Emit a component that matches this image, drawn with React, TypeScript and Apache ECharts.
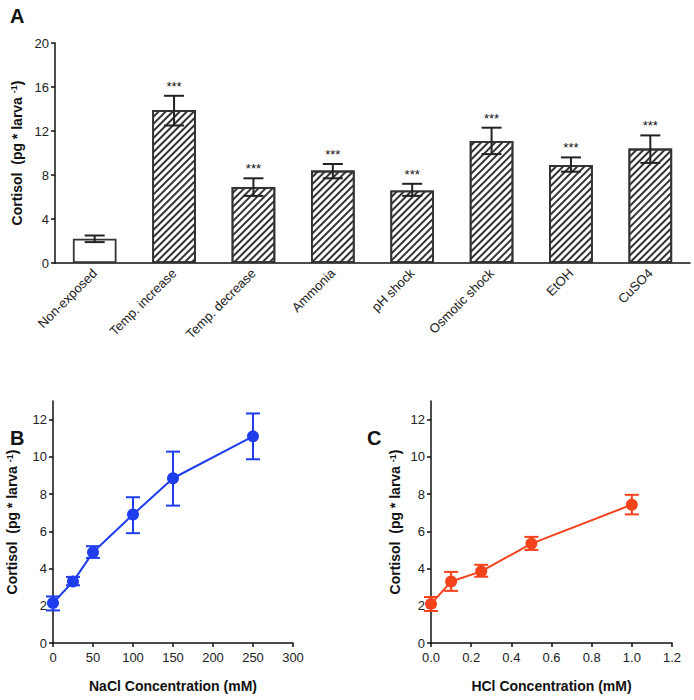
import React, { useEffect, useRef } from "react";
import * as echarts from "echarts";

const categories = ["Non-exposed", "Temp. increase", "Temp. decrease", "Ammonia", "pH shock", "Osmotic shock", "EtOH", "CuSO4"];
const barValues = [2.2, 13.9, 6.9, 8.4, 6.6, 11.1, 8.9, 10.4];
const barLow = [1.9, 12.5, 6.1, 7.7, 6.1, 9.9, 8.3, 9.1];
const barHigh = [2.5, 15.2, 7.7, 9.0, 7.2, 12.3, 9.6, 11.6];
const barStars = ["", "***", "***", "***", "***", "***", "***", "***"];

const naclX = [0, 25, 50, 100, 150, 250];
const naclY = [2.15, 3.3, 4.87, 6.9, 8.85, 11.1];
const naclLow = [1.75, 3.1, 4.57, 5.9, 7.38, 9.87];
const naclHigh = [2.5, 3.55, 5.2, 7.83, 10.28, 12.33];

const hclX = [0, 0.1, 0.25, 0.5, 1.0];
const hclY = [2.1, 3.3, 3.85, 5.34, 7.43];
const hclLow = [1.72, 2.8, 3.56, 5.0, 6.91];
const hclHigh = [2.47, 3.82, 4.2, 5.7, 7.96];

const yTicksBC = [0, 2, 4, 6, 8, 10, 12];

const FONT = "Liberation Sans, Arial, sans-serif";
const BLUE = "#1f3ced";
const RED = "#f4421c";

export default function App() {
  const ref = useRef<HTMLDivElement>(null);
  useEffect(() => {
    if (!ref.current) return;
    const chart = echarts.init(ref.current, null, { renderer: "svg" });

    const axisLine = { lineStyle: { color: "#111", width: 1.5 } };
    const axisTick = { length: 4, lineStyle: { color: "#111", width: 1.5 } };
    const axisLabel = { color: "#222", fontSize: 13, fontFamily: FONT };
    const yName = "Cortisol  (pg * larva {sup|-1})";
    const nameStyle = {
      fontSize: 14,
      fontWeight: "bold" as const,
      color: "#111",
      fontFamily: FONT,
      rich: { sup: { fontSize: 9, fontWeight: "bold" as const, verticalAlign: "top" as const, color: "#111", fontFamily: FONT } },
    };

    const errRender = (capW: number, color: string, withStars: boolean, stars?: string[]) => (params: any, api: any) => {
      const x = api.value(0);
      const lo = api.coord([x, api.value(1)]);
      const hi = api.coord([x, api.value(2)]);
      const style = { stroke: color, lineWidth: 2 };
      const children: any[] = [
        { type: "line", shape: { x1: hi[0], y1: hi[1], x2: lo[0], y2: lo[1] }, style },
        { type: "line", shape: { x1: hi[0] - capW / 2, y1: hi[1], x2: hi[0] + capW / 2, y2: hi[1] }, style },
        { type: "line", shape: { x1: lo[0] - capW / 2, y1: lo[1], x2: lo[0] + capW / 2, y2: lo[1] }, style },
      ];
      if (withStars && stars && stars[params.dataIndex]) {
        children.push({
          type: "text",
          x: hi[0],
          y: hi[1] - 3,
          style: { text: stars[params.dataIndex], fill: "#111", fontSize: 13, fontFamily: FONT, align: "center", verticalAlign: "bottom" },
        });
      }
      return { type: "group", children };
    };

    const decal = {
      symbol: "rect",
      symbolSize: 1,
      dashArrayX: [1, 0],
      dashArrayY: [1.6, 2.2],
      rotation: -Math.PI / 4,
      color: "#333",
    };

    chart.setOption({
      animation: false,
      backgroundColor: "#fff",
      graphic: [
        { type: "text", left: 10, top: 6, style: { text: "A", fontSize: 20, fontWeight: "bold", fill: "#111", fontFamily: FONT } },
        { type: "text", left: 10, top: 428, style: { text: "B", fontSize: 20, fontWeight: "bold", fill: "#111", fontFamily: FONT } },
        { type: "text", left: 367, top: 428, style: { text: "C", fontSize: 20, fontWeight: "bold", fill: "#111", fontFamily: FONT } },
      ],
      grid: [
        { left: 55, top: 43, width: 635, height: 220 },
        { left: 53, top: 401, width: 240, height: 242 },
        { left: 431, top: 401, width: 241, height: 242 },
      ],
      xAxis: [
        {
          gridIndex: 0,
          type: "category",
          data: categories,
          boundaryGap: true,
          axisLine,
          axisTick: { ...axisTick, alignWithLabel: true },
          axisLabel: { ...axisLabel, rotate: 45, interval: 0, margin: 8 },
        },
        {
          gridIndex: 1,
          type: "value",
          min: 0,
          max: 300,
          interval: 50,
          splitLine: { show: false },
          axisLine,
          axisTick,
          axisLabel,
          name: "NaCl Concentration (mM)",
          nameLocation: "middle",
          nameGap: 36,
          nameTextStyle: nameStyle,
        },
        {
          gridIndex: 2,
          type: "value",
          min: 0,
          max: 1.2,
          interval: 0.2,
          splitLine: { show: false },
          axisLine,
          axisTick,
          axisLabel: { ...axisLabel, formatter: (v: number) => v.toFixed(1) },
          name: "HCl Concentration (mM)",
          nameLocation: "middle",
          nameGap: 36,
          nameTextStyle: nameStyle,
        },
      ],
      yAxis: [
        {
          gridIndex: 0,
          type: "value",
          min: 0,
          max: 20,
          interval: 4,
          splitLine: { show: false },
          axisLine: { ...axisLine, show: true },
          axisTick: { ...axisTick, show: true },
          axisLabel: { ...axisLabel, margin: 6 },
          name: yName,
          nameLocation: "middle",
          nameGap: 31,
          nameTextStyle: nameStyle,
        },
        {
          gridIndex: 1,
          type: "value",
          min: 0,
          max: 13,
          splitLine: { show: false },
          axisLine: { ...axisLine, show: true },
          axisTick: { ...axisTick, show: true, customValues: yTicksBC },
          axisLabel: { ...axisLabel, margin: 6, customValues: yTicksBC },
          name: yName,
          nameLocation: "middle",
          nameGap: 34,
          nameTextStyle: nameStyle,
        },
        {
          gridIndex: 2,
          type: "value",
          min: 0,
          max: 13,
          splitLine: { show: false },
          axisLine: { ...axisLine, show: true },
          axisTick: { ...axisTick, show: true, customValues: yTicksBC },
          axisLabel: { ...axisLabel, margin: 6, customValues: yTicksBC },
          name: yName,
          nameLocation: "middle",
          nameGap: 29,
          nameTextStyle: nameStyle,
        },
      ],
      series: [
        {
          type: "bar",
          xAxisIndex: 0,
          yAxisIndex: 0,
          barWidth: "55%",
          barGap: "-100%",
          data: barValues.map((v, i) => (i === 0 ? v : "-")),
          itemStyle: { color: "#fff", borderColor: "#333", borderWidth: 1.8 },
        },
        {
          type: "bar",
          xAxisIndex: 0,
          yAxisIndex: 0,
          barWidth: "55%",
          barGap: "-100%",
          data: barValues.map((v, i) => (i === 0 ? "-" : v)),
          itemStyle: { color: "#fff", borderColor: "#333", borderWidth: 1.8, decal },
        },
        {
          type: "custom",
          xAxisIndex: 0,
          yAxisIndex: 0,
          renderItem: errRender(20, "#222", true, barStars),
          data: categories.map((_, i) => [i, barLow[i], barHigh[i]]),
          z: 5,
        },
        {
          type: "custom",
          xAxisIndex: 1,
          yAxisIndex: 1,
          renderItem: errRender(14, BLUE, false),
          data: naclX.map((x, i) => [x, naclLow[i], naclHigh[i]]),
          z: 3,
        },
        {
          type: "line",
          xAxisIndex: 1,
          yAxisIndex: 1,
          data: naclX.map((x, i) => [x, naclY[i]]),
          symbol: "circle",
          symbolSize: 12,
          lineStyle: { color: BLUE, width: 2 },
          itemStyle: { color: BLUE },
          z: 4,
        },
        {
          type: "custom",
          xAxisIndex: 2,
          yAxisIndex: 2,
          renderItem: errRender(14, RED, false),
          data: hclX.map((x, i) => [x, hclLow[i], hclHigh[i]]),
          z: 3,
        },
        {
          type: "line",
          xAxisIndex: 2,
          yAxisIndex: 2,
          data: hclX.map((x, i) => [x, hclY[i]]),
          symbol: "circle",
          symbolSize: 12,
          lineStyle: { color: RED, width: 2 },
          itemStyle: { color: RED },
          z: 4,
        },
      ],
    });
    return () => chart.dispose();
  }, []);
  return <div ref={ref} style={{ position: "absolute", left: 0, top: 0, width: 694, height: 700 }} />;
}
